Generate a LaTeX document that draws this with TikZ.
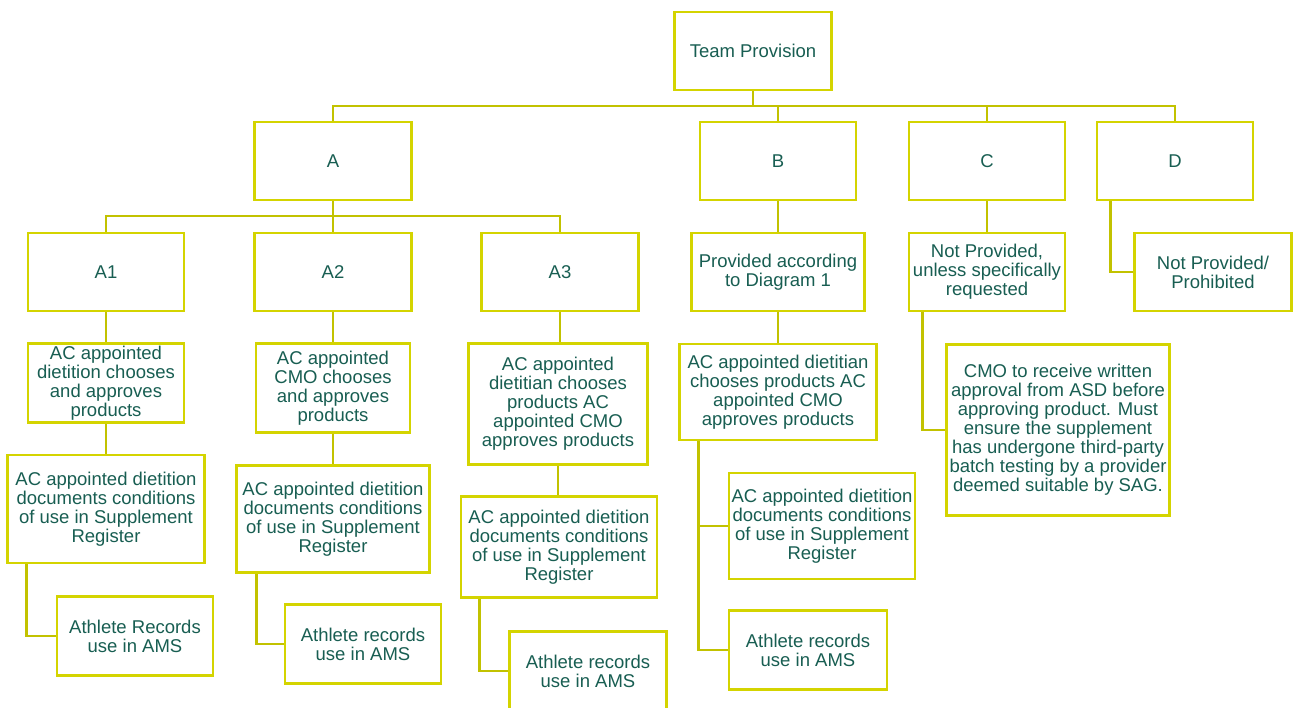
\documentclass[tikz,border=0pt]{standalone}
\usepackage{fontspec}
\setmainfont{Liberation Sans}
\usepackage{tikz}
\usetikzlibrary{positioning, calc}

\definecolor{boxline}{RGB}{212,212,0}
\definecolor{linkline}{RGB}{194,194,0}
\definecolor{boxtext}{RGB}{24,94,82}

\tikzset{
    box/.style 2 args={draw=boxline, line width=2.6pt, rectangle, fill=white,
        minimum width=#1, minimum height=#2, inner sep=1pt, align=center,
        text=boxtext, font=\fontsize{18.5}{19}\selectfont},
    link/.style={draw=linkline, line width=2.6pt}
}

\begin{document}
\begin{tikzpicture}[x=1pt, y=-1pt]
        \useasboundingbox (0,0) rectangle (1293,708);

        \node[box={157pt}{78pt}] (tp) at (753,51) {Team Provision};
        \node[box={157pt}{78pt}] (a) at (333,161) {A};
        \node[box={156pt}{78pt}] (b) at (778,161) {B};
        \node[box={156pt}{78pt}] (c) at (987,161) {C};
        \node[box={156pt}{78pt}] (d) at (1175,161) {D};

        \node[box={156pt}{78pt}] (aone) at (106,272) {A1};
        \node[box={157pt}{78pt}] (atwo) at (333,272) {A2};
        \node[box={157pt}{78pt}] (athree) at (560,272) {A3};
        \node[box={173pt}{78pt}] (bone) at (778,272) {Provided according\\to Diagram 1};
        \node[box={156pt}{78pt}] (cone) at (987,272) {Not Provided,\\unless specifically\\requested};
        \node[box={157pt}{78pt}] (done) at (1213,272) {Not Provided/\\Prohibited};

        \node[box={156pt}{79pt}] (aonechoose) at (106,383) {AC appointed\\dietition chooses\\and approves\\products};
        \node[box={197pt}{108pt}] (aonedoc) at (106,509) {AC appointed dietition\\documents conditions\\of use in Supplement\\Register};
        \node[box={156pt}{79pt}] (aonerec) at (135,636) {Athlete Records\\use in AMS};

        \node[box={154pt}{89pt}] (atwochoose) at (333,388) {AC appointed\\CMO chooses\\and approves\\products};
        \node[box={193pt}{107pt}] (atwodoc) at (333,519) {AC appointed dietition\\documents conditions\\of use in Supplement\\Register};
        \node[box={156pt}{79pt}] (atworec) at (363,644) {Athlete records\\use in AMS};

        \node[box={179pt}{121pt}] (athreechoose) at (558,404) {AC appointed\\dietitian chooses\\products AC\\appointed CMO\\approves products};
        \node[box={196pt}{101pt}] (athreedoc) at (559,547) {AC appointed dietition\\documents conditions\\of use in Supplement\\Register};
        \node[box={157pt}{79pt}] (athreerec) at (588,671) {Athlete records\\use in AMS};

        \node[box={197pt}{96pt}] (bchoose) at (778,392) {AC appointed dietitian\\chooses products AC\\appointed CMO\\approves products};
        \node[box={186pt}{106pt}] (bdoc) at (822,526) {AC appointed dietition\\documents conditions\\of use in Supplement\\Register};
        \node[box={158pt}{79pt}] (brec) at (808,650) {Athlete records\\use in AMS};

        \node[box={223pt}{171pt}] (cmo) at (1058,430) {CMO to receive written\\approval from ASD before\\approving product. Must\\ensure the supplement\\has undergone third-party\\batch testing by a provider\\deemed suitable by SAG.};

        \coordinate (bustop) at (753,106);
        \coordinate (busa) at (333,216);

        \draw[link] (tp.south) -- (bustop);
        \draw[link] (a.north) |- (bustop) -| (d.north);
        \draw[link] (b.north) -- (b.north |- bustop);
        \draw[link] (c.north) -- (c.north |- bustop);

        \draw[link] (a.south) -- (busa);
        \draw[link] (aone.north) |- (busa) -| (athree.north);
        \draw[link] (atwo.north) -- (busa);

        \draw[link] (b) -- (bone);
        \draw[link] (aone) -- (aonechoose);
        \draw[link] (aonechoose) -- (aonedoc);
        \draw[link] ([xshift=20pt]aonedoc.south west) |- (aonerec.west);
        \draw[link] (atwo) -- (atwochoose);
        \draw[link] (atwochoose) -- (atwodoc);
        \draw[link] ([xshift=21pt]atwodoc.south west) |- (atworec.west);
        \draw[link] (athree.south) -- (athree.south |- athreechoose.north);
        \draw[link] (athreechoose.south) -- (athreechoose.south |- athreedoc.north);
        \draw[link] ([xshift=20pt]athreedoc.south west) |- (athreerec.west);
        \draw[link] (bone) -- (bchoose);
        \draw[link] ([xshift=20pt]bchoose.south west) |- (bdoc.west);
        \draw[link] ([xshift=20pt]bchoose.south west) |- (brec.west);
        \draw[link] (c) -- (cone);
        \draw[link] ([xshift=15pt]cone.south west) |- (cmo.west);
        \draw[link] ([xshift=15pt]d.south west) |- (done.west);
    \end{tikzpicture}
\end{document}
